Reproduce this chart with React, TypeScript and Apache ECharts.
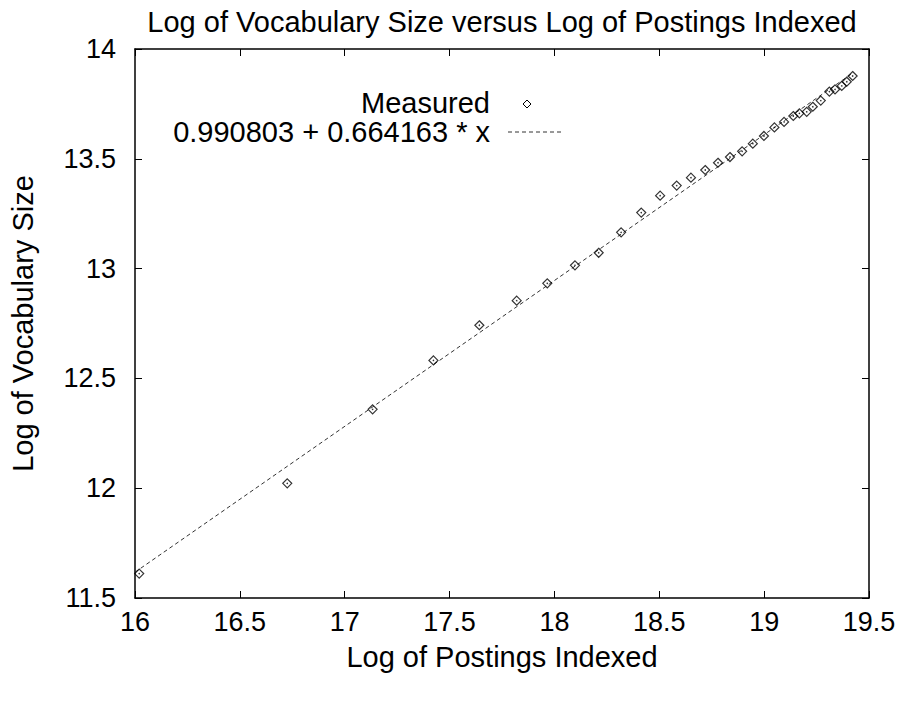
import React, { useEffect, useRef } from "react";
import * as echarts from "echarts";

const postingsLog = [16.02, 16.726, 17.133, 17.423, 17.642, 17.82, 17.966, 18.098, 18.211, 18.318, 18.414, 18.504, 18.583, 18.651, 18.719, 18.78, 18.837, 18.895, 18.946, 18.999, 19.049, 19.095, 19.139, 19.168, 19.203, 19.232, 19.27, 19.311, 19.338, 19.37, 19.394, 19.422];
const vocabLog = [11.611, 12.022, 12.359, 12.582, 12.742, 12.854, 12.933, 13.015, 13.072, 13.165, 13.255, 13.332, 13.378, 13.414, 13.449, 13.482, 13.508, 13.534, 13.569, 13.604, 13.643, 13.668, 13.695, 13.707, 13.714, 13.737, 13.765, 13.806, 13.816, 13.832, 13.851, 13.877];
const fitIntercept = 0.990803;
const fitSlope = 0.664163;
const fitRange = [16, 19.42];
const xRange = [16, 19.5];
const yRange = [11.5, 14];
const tickStep = 0.5;

const titleText = "Log of Vocabulary Size versus Log of Postings Indexed";
const xName = "Log of Postings Indexed";
const yName = "Log of Vocabulary Size";
const legendMeasured = "Measured";
const legendFit = `${fitIntercept} + ${fitSlope} * x`;

const FONT = "'Liberation Sans', Arial, Helvetica, sans-serif";

export default function App() {
  const ref = useRef<HTMLDivElement>(null);
  useEffect(() => {
    if (!ref.current) return;
    const chart = echarts.init(ref.current, null, { renderer: "svg" });
    const points = postingsLog.map((x, i) => [x, vocabLog[i]]);
    const fitLine = fitRange.map((x) => [x, fitIntercept + fitSlope * x]);
    const axisLine = { show: true, lineStyle: { color: "#000", width: 1.5 } };
    const axisTick = { show: true, inside: true, length: 7, lineStyle: { color: "#000", width: 1 } };
    const xBase = { type: "value", min: xRange[0], max: xRange[1], interval: tickStep, splitLine: { show: false }, axisLine, axisTick };
    const yBase = { type: "value", min: yRange[0], max: yRange[1], interval: tickStep, splitLine: { show: false }, axisLine, axisTick };
    chart.setOption({
      animation: false,
      backgroundColor: "#fff",
      textStyle: { fontFamily: FONT },
      grid: { left: 135, top: 49, right: 34, bottom: 108, containLabel: false },
      xAxis: [
        {
          ...xBase,
          position: "bottom",
          name: xName,
          nameLocation: "middle",
          nameGap: 44,
          nameTextStyle: { fontSize: 29, color: "#000", fontFamily: FONT },
          axisLabel: { fontSize: 27, color: "#000", margin: 10, fontFamily: FONT },
        },
        { ...xBase, position: "top", axisLabel: { show: false } },
      ],
      yAxis: [
        {
          ...yBase,
          position: "left",
          name: yName,
          nameLocation: "middle",
          nameGap: 98,
          nameTextStyle: { fontSize: 29, color: "#000", fontFamily: FONT },
          axisLabel: { fontSize: 27, color: "#000", margin: 19, fontFamily: FONT },
        },
        { ...yBase, position: "right", axisLabel: { show: false } },
      ],
      graphic: [
        { type: "text", x: 502, y: 7, style: { text: titleText, fontSize: 29, fill: "#000", textAlign: "center", fontFamily: FONT } },
        { type: "text", x: 490, y: 103, style: { text: legendMeasured, fontSize: 29, fill: "#000", textAlign: "right", textVerticalAlign: "middle", fontFamily: FONT } },
        { type: "polygon", shape: { points: [[527, 100], [531, 104], [527, 108], [523, 104]] }, style: { fill: "none", stroke: "#000", lineWidth: 1 } },
        { type: "text", x: 490, y: 132, style: { text: legendFit, fontSize: 29, fill: "#000", textAlign: "right", textVerticalAlign: "middle", fontFamily: FONT } },
        { type: "line", shape: { x1: 508, y1: 132, x2: 562, y2: 132 }, style: { stroke: "#333", lineWidth: 1, lineDash: [4, 3] } },
      ],
      series: [
        {
          type: "line",
          data: fitLine,
          showSymbol: false,
          symbol: "none",
          lineStyle: { color: "#333", width: 1, type: [4, 3] },
          z: 1,
        },
        {
          type: "scatter",
          data: points,
          symbol: "diamond",
          symbolSize: [9, 9],
          itemStyle: { color: "rgba(255,255,255,0)", borderColor: "#000", borderWidth: 1.2 },
          z: 2,
        },
        {
          type: "scatter",
          data: points,
          symbol: "circle",
          symbolSize: 1.6,
          itemStyle: { color: "#000" },
          z: 3,
        },
      ],
    });
    return () => chart.dispose();
  }, []);
  return <div ref={ref} style={{ width: 903, height: 706, margin: -8 }} />;
}
